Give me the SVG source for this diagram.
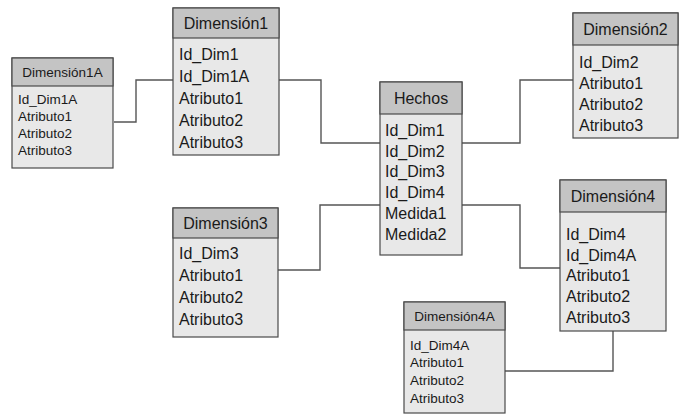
<svg xmlns="http://www.w3.org/2000/svg" width="681" height="415" viewBox="0 0 681 415">
  <style>
    .hd { fill: #c4c4c4; stroke: #4a4a4a; stroke-width: 1.2; }
    .bd { fill: #e8e8e8; stroke: #4a4a4a; stroke-width: 1.2; }
    .t { font-family: "Liberation Sans", Arial, sans-serif; font-size: 16px; fill: #1a1a1a; }
    .ts { font-family: "Liberation Sans", Arial, sans-serif; font-size: 13.5px; fill: #1a1a1a; }
    .c { text-anchor: middle; }
    .ln { fill: none; stroke: #555; stroke-width: 1.4; }
  </style>
  <rect width="681" height="415" fill="#ffffff"/>

  <g id="connectors">
    <path class="ln" d="M114,122 H136 V80 H173"/>
    <path class="ln" d="M279,80 H321 V143 H380"/>
    <path class="ln" d="M462,143 H520 V80 H573"/>
    <path class="ln" d="M278,270 H320 V205 H380"/>
    <path class="ln" d="M462,205 H520 V268 H560"/>
    <path class="ln" d="M613,331 V371 H505"/>
  </g>

  <g id="dimension1a">
    <rect class="bd" x="12" y="58" width="101" height="110"/>
    <rect class="hd" x="12" y="58" width="101" height="28"/>
    <text class="ts c" x="62.5" y="77">Dimensión1A</text>
    <text class="ts" x="18" y="104">Id_Dim1A</text>
    <text class="ts" x="18" y="121">Atributo1</text>
    <text class="ts" x="18" y="138">Atributo2</text>
    <text class="ts" x="18" y="155">Atributo3</text>
  </g>

  <g id="dimension1">
    <rect class="bd" x="173" y="8" width="106" height="147"/>
    <rect class="hd" x="173" y="8" width="106" height="30"/>
    <text class="t c" x="226" y="29">Dimensión1</text>
    <text class="t" x="179" y="60">Id_Dim1</text>
    <text class="t" x="179" y="82">Id_Dim1A</text>
    <text class="t" x="179" y="104">Atributo1</text>
    <text class="t" x="179" y="126">Atributo2</text>
    <text class="t" x="179" y="148">Atributo3</text>
  </g>

  <g id="hechos">
    <rect class="bd" x="380" y="82" width="82" height="173"/>
    <rect class="hd" x="380" y="82" width="82" height="32"/>
    <text class="t c" x="421" y="104">Hechos</text>
    <text class="t" x="385" y="136">Id_Dim1</text>
    <text class="t" x="385" y="157">Id_Dim2</text>
    <text class="t" x="385" y="177">Id_Dim3</text>
    <text class="t" x="385" y="198">Id_Dim4</text>
    <text class="t" x="385" y="219">Medida1</text>
    <text class="t" x="385" y="240">Medida2</text>
  </g>

  <g id="dimension2">
    <rect class="bd" x="573" y="13" width="105" height="125"/>
    <rect class="hd" x="573" y="13" width="105" height="32"/>
    <text class="t c" x="625.5" y="35">Dimensión2</text>
    <text class="t" x="579" y="68">Id_Dim2</text>
    <text class="t" x="579" y="89">Atributo1</text>
    <text class="t" x="579" y="110">Atributo2</text>
    <text class="t" x="579" y="131">Atributo3</text>
  </g>

  <g id="dimension3">
    <rect class="bd" x="173" y="208" width="105" height="129"/>
    <rect class="hd" x="173" y="208" width="105" height="30"/>
    <text class="t c" x="225.5" y="229">Dimensión3</text>
    <text class="t" x="179" y="259">Id_Dim3</text>
    <text class="t" x="179" y="281">Atributo1</text>
    <text class="t" x="179" y="303">Atributo2</text>
    <text class="t" x="179" y="325">Atributo3</text>
  </g>

  <g id="dimension4">
    <rect class="bd" x="560" y="180" width="106" height="151"/>
    <rect class="hd" x="560" y="180" width="106" height="32"/>
    <text class="t c" x="613" y="202">Dimensión4</text>
    <text class="t" x="566" y="240">Id_Dim4</text>
    <text class="t" x="566" y="261">Id_Dim4A</text>
    <text class="t" x="566" y="281">Atributo1</text>
    <text class="t" x="566" y="302">Atributo2</text>
    <text class="t" x="566" y="323">Atributo3</text>
  </g>

  <g id="dimension4a">
    <rect class="bd" x="404" y="302" width="101" height="111"/>
    <rect class="hd" x="404" y="302" width="101" height="28"/>
    <text class="ts c" x="454.5" y="321">Dimensión4A</text>
    <text class="ts" x="410" y="350">Id_Dim4A</text>
    <text class="ts" x="410" y="367">Atributo1</text>
    <text class="ts" x="410" y="385">Atributo2</text>
    <text class="ts" x="410" y="403">Atributo3</text>
  </g>
</svg>
